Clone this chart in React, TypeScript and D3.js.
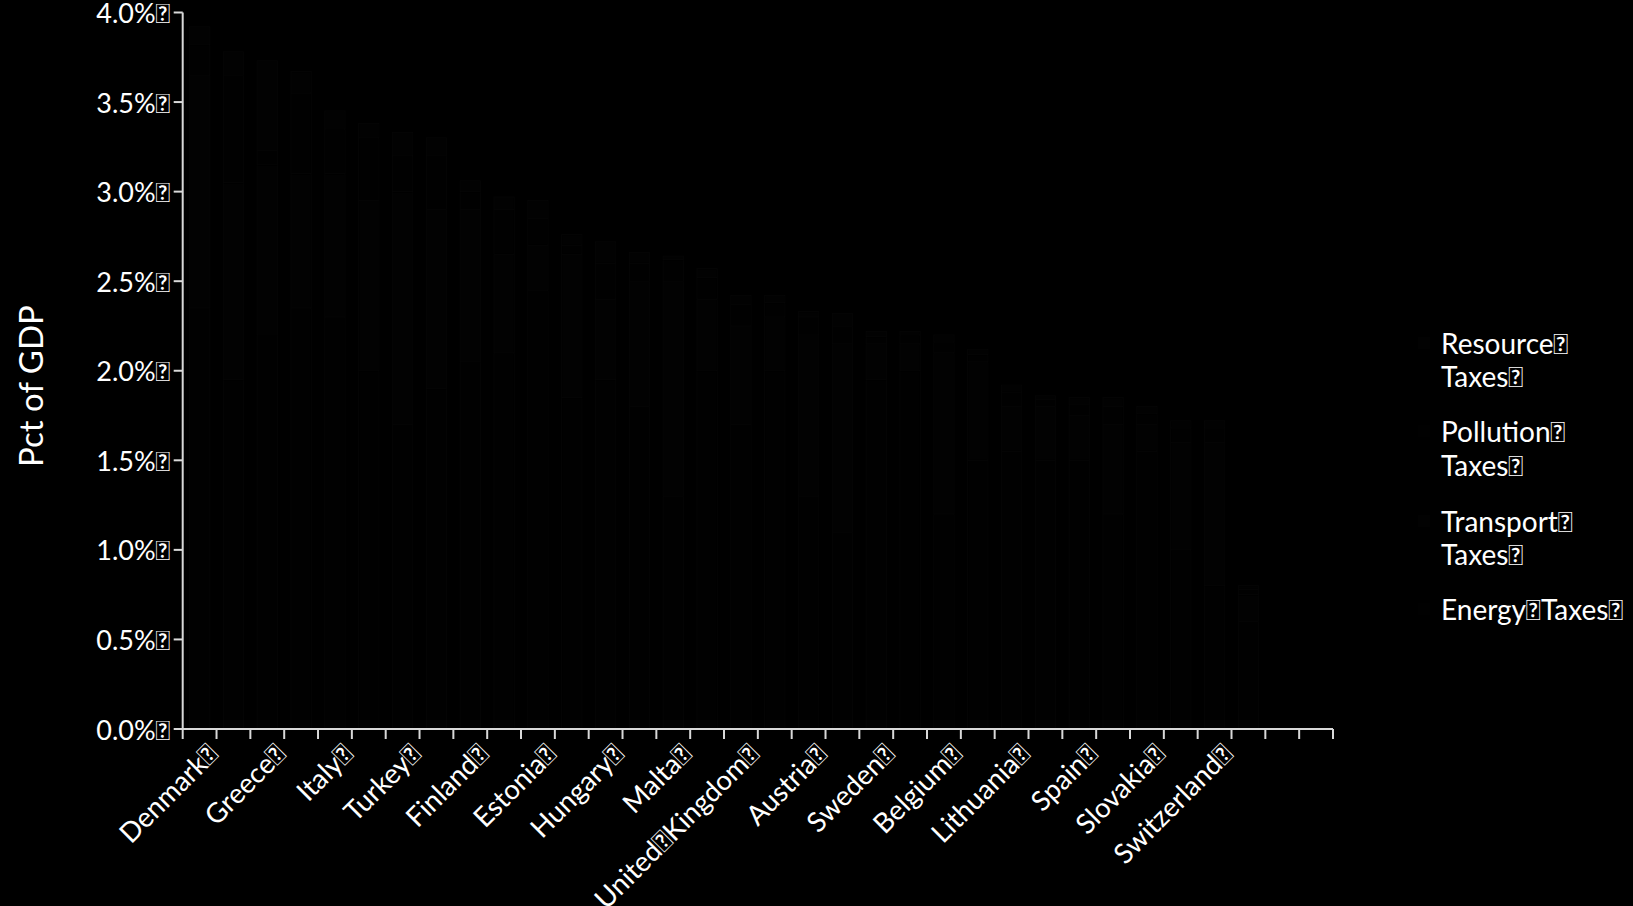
import React from "react";
import * as d3 from "d3";

const TOFU = "\uE000";

const categories = [
  "Denmark", "Netherlands", "Greece", "Slovenia", "Italy", "Israel", "Turkey", "Korea",
  "Finland", "Czech Republic", "Estonia", "Ireland", "Hungary", "Portugal", "Malta", "Latvia",
  "United Kingdom", "Poland", "Austria", "Norway", "Sweden", "Luxembourg", "Belgium", "Germany",
  "Lithuania", "France", "Spain", "Iceland", "Slovakia", "Japan", "Switzerland", "United States",
  "", ""
];
const labelledIdx = [0, 2, 4, 6, 8, 10, 12, 14, 16, 18, 20, 22, 24, 26, 28, 30];

const energyTaxes = [2.35, 1.95, 2.2, 2.35, 2.3, 2.0, 1.7, 1.9, 2.05, 2.1, 2.45, 1.85, 1.95, 1.8, 1.3, 2.0,
  1.7, 2.0, 1.3, 1.1, 1.95, 2.0, 1.2, 1.5, 1.55, 1.5, 1.5, 1.2, 1.55, 1.0, 0.8, 0.6, 0, 0];
const transportTaxes = [1.3, 1.1, 0.95, 0.75, 0.8, 0.95, 1.3, 1.0, 0.85, 0.55, 0.25, 0.8, 0.45, 0.7, 1.2, 0.4,
  0.55, 0.3, 0.9, 1.05, 0.2, 0.15, 0.9, 0.55, 0.25, 0.3, 0.25, 0.5, 0.15, 0.6, 0.8, 0.15, 0, 0];
const pollutionTaxes = [0.17, 0.6, 0.08, 0.45, 0.25, 0.35, 0.2, 0.3, 0.1, 0.25, 0.15, 0.05, 0.2, 0.1, 0.12, 0.12,
  0.12, 0.08, 0.1, 0.1, 0.04, 0.05, 0.06, 0.04, 0.08, 0.04, 0.06, 0.1, 0.06, 0.08, 0.08, 0.03, 0, 0];
const resourceTaxes = [0.1, 0.13, 0.5, 0.12, 0.1, 0.08, 0.13, 0.1, 0.06, 0.07, 0.1, 0.06, 0.12, 0.06, 0.02, 0.05,
  0.05, 0.04, 0.03, 0.07, 0.03, 0.02, 0.04, 0.03, 0.04, 0.02, 0.04, 0.05, 0.04, 0.04, 0.04, 0.02, 0, 0];

const seriesNames = ["Energy Taxes", "Transport Taxes", "Pollution Taxes", "Resource Taxes"];
const seriesColors = ["#010101", "#020202", "#010101", "#020202"];
const yTicks = [0, 0.5, 1, 1.5, 2, 2.5, 3, 3.5, 4];

const W = 1633;
const H = 906;
const FONT = "Lato, 'Open Sans', sans-serif";

export default function App() {
  const x0 = 182.7, x1 = 1333;
  const y0 = 729, y1 = 12.5;

  const x = d3.scaleBand<number>()
    .domain(categories.map((_, i) => i))
    .range([x0, x1])
    .paddingInner(0.4)
    .paddingOuter(0.2);
  const y = d3.scaleLinear().domain([0, 4]).range([y0, y1]);

  const rows = categories.map((c, i) => ({
    idx: i,
    e: energyTaxes[i],
    t: transportTaxes[i],
    p: pollutionTaxes[i],
    r: resourceTaxes[i],
  }));
  const stack = d3.stack<any>().keys(["e", "t", "p", "r"]);
  const layers = stack(rows);

  const step = x.step();
  const xTickPos = d3.range(categories.length + 1).map((i) => x0 + i * step);

  const legend = [
    { lines: ["Resource", "Taxes"], ys: [343, 376], color: seriesColors[3] },
    { lines: ["Pollution", "Taxes"], ys: [431, 465], color: seriesColors[2] },
    { lines: ["Transport", "Taxes"], ys: [521, 554], color: seriesColors[1] },
    { lines: ["Energy" + TOFU + "Taxes"], ys: [609], color: seriesColors[0] },
  ];

  return (
    <svg
      width={W}
      height={H}
      style={{ position: "absolute", left: 0, top: 0, background: "#000" }}
      fontFamily={FONT}
    >
      <rect x={0} y={0} width={W} height={H} fill="#000" />

      {layers.map((layer, li) => (
        <g key={li} fill={seriesColors[li]} stroke="#060606" strokeWidth={0.8}>
          {layer.map((d: any, i: number) =>
            d[1] - d[0] > 0 ? (
              <rect
                key={i}
                x={x(i)}
                y={y(d[1])}
                width={x.bandwidth()}
                height={y(d[0]) - y(d[1])}
              />
            ) : null
          )}
        </g>
      ))}

      {/* Y axis */}
      <line x1={x0} x2={x0} y1={y1} y2={y0} stroke="#d9d9d9" strokeWidth={2} />
      {yTicks.map((t) => (
        <g key={t}>
          <line x1={x0 - 9} x2={x0} y1={y(t)} y2={y(t)} stroke="#d9d9d9" strokeWidth={2} />
          <text
            x={170}
            y={y(t)}
            fill="#fff"
            fontSize={27}
            textAnchor="end"
            dominantBaseline="central"
          >
            {d3.format(".1f")(t) + "%" + TOFU}
          </text>
        </g>
      ))}

      {/* X axis */}
      <line x1={x0} x2={x1} y1={y0} y2={y0} stroke="#d9d9d9" strokeWidth={2} />
      {xTickPos.map((px, i) => (
        <line key={i} x1={px} x2={px} y1={y0} y2={y0 + 10} stroke="#d9d9d9" strokeWidth={2} />
      ))}
      {labelledIdx.map((i) => {
        const cx = (x(i) as number) + x.bandwidth() / 2 + 20;
        const cy = y0 + 27;
        return (
          <text
            key={i}
            x={cx}
            y={cy}
            fill="#fff"
            fontSize={27.5}
            textAnchor="end"
            transform={`rotate(-45 ${cx} ${cy})`}
          >
            {categories[i].replace(" ", TOFU) + TOFU}
          </text>
        );
      })}

      {/* Y title */}
      <text
        x={43}
        y={386}
        fill="#fff"
        fontSize={33}
        textAnchor="middle"
        transform="rotate(-90 43 386)"
      >
        Pct of GDP
      </text>

      {/* Legend */}
      {legend.map((item, k) => (
        <g key={k}>
          <rect x={1418} y={item.ys[0] - 6} width={12} height={12} fill={item.color} />
          {item.lines.map((ln, j) => (
            <text
              key={j}
              x={1441}
              y={item.ys[j]}
              fill="#fff"
              fontSize={28}
              dominantBaseline="central"
            >
              {ln + TOFU}
            </text>
          ))}
        </g>
      ))}
    </svg>
  );
}
